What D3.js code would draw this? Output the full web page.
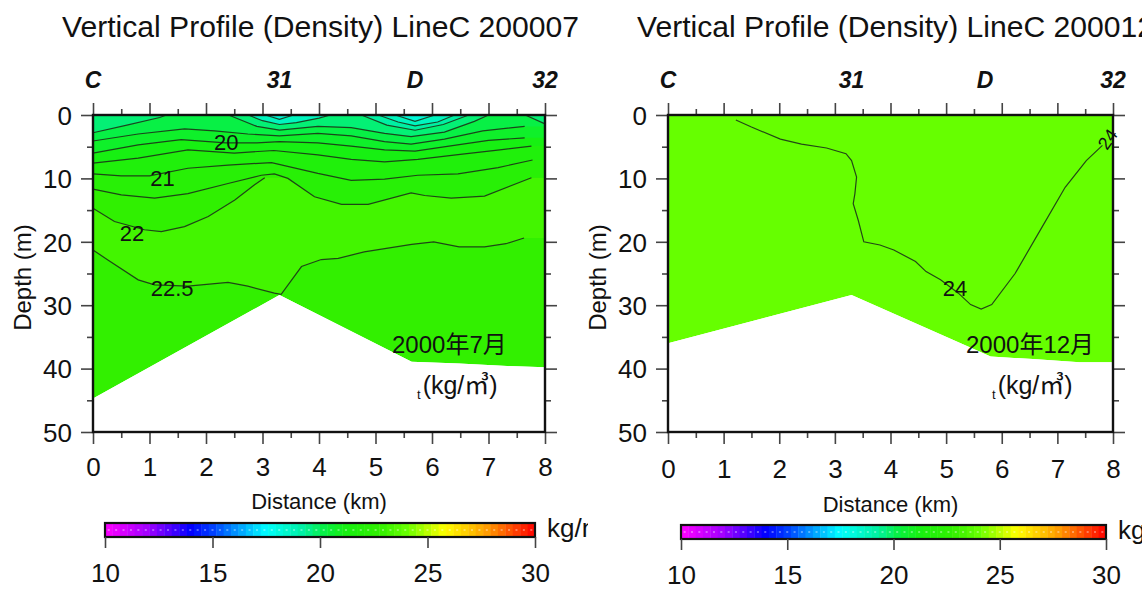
<!DOCTYPE html>
<html>
<head>
<meta charset="utf-8">
<script src="https://cdn.jsdelivr.net/npm/d3@7"></script>
<style>
  body { margin: 0; background: #fff; }
  svg text { font-family: "Liberation Sans", Arial, sans-serif; fill: #111; }
  .narrow { font-family: "Liberation Sans Narrow", "Liberation Sans", "Noto Sans CJK JP", sans-serif; }
  .cjk { font-family: "Liberation Sans Narrow", "Liberation Sans", "Noto Sans CJK JP", sans-serif; }
</style>
</head>
<body>
<svg id="chart" width="1142" height="591"></svg>
<script>
const W = 1142, H = 591;

// axes
const distanceTicks = [0, 1, 2, 3, 4, 5, 6, 7, 8];
const distanceMinor = [0.5, 1.5, 2.5, 3.5, 4.5, 5.5, 6.5, 7.5];
const depthTicks = [0, 10, 20, 30, 40, 50];
const depthMinor = [5, 15, 25, 35, 45];
const stationNames = ["C", "31", "D", "32"];
const stationKm = [0, 3.3, 5.7, 8];

// colour bar
const colorTicks = [10, 15, 20, 25, 30];
const colorStops = [10, 12, 14, 15, 17.5, 19.25, 20.25, 21.25, 22.8, 24, 25.8, 27.7, 30];
const colorHex = ["#ff00ff", "#a000ff", "#0000ff", "#0040ff", "#00ffff", "#00f0a0", "#08f040", "#18f010", "#32f000", "#66ff00", "#ffff00", "#ffa000", "#ff0000"];

// sea bottom (km, depth m)
const julBottom = [[0, 44.7], [3.3, 28.4], [5.64, 38.9], [6.48, 39.2], [7.33, 39.6], [8, 39.8]];
const decBottom = [[0, 36.0], [3.3, 28.4], [5.8, 38.1], [6.56, 38.5], [7.4, 39.0], [8, 39.0]];

// July 2000 density contours (km, depth m)
const jul175a = [[3.05, 0], [3.3, 0.7], [3.55, 0]];
const jul175b = [[5.35, 0], [5.7, 1.0], [6.05, 0]];
const jul18a = [[2.75, 0], [3.0, 0.9], [3.3, 1.5], [3.6, 1.2], [4.0, 0.5], [4.2, 0]];
const jul18b = [[5.05, 0], [5.4, 1.1], [5.7, 1.7], [6.1, 1.1], [6.4, 0]];
const jul185 = [[4.75, 0], [5.2, 1.6], [5.7, 2.4], [6.2, 1.5], [6.65, 0]];
const jul19a = [[0, 2.8], [0.6, 1.6], [1.18, 0.4], [1.3, 0]];
const jul19b = [[2.4, 0], [2.9, 1.8], [3.3, 2.4], [3.98, 1.8], [4.57, 2.0], [5.16, 2.9], [5.63, 3.4], [6.22, 2.7], [6.75, 1.0], [7.0, 0]];
const jul19c = [[7.65, 0], [8, 1.4]];
const jul195 = [[0, 4.1], [0.8, 3.0], [1.62, 2.2], [2.15, 2.5], [2.74, 3.0], [3.3, 3.3], [3.98, 2.9], [4.57, 3.3], [5.16, 4.2], [5.63, 4.6], [6.22, 3.8], [6.9, 2.5], [7.64, 1.8]];
const jul20 = [[0, 6.0], [0.8, 4.7], [1.56, 3.9], [2.35, 4.4], [2.9, 4.4], [3.3, 4.2], [3.98, 4.4], [4.57, 4.9], [5.16, 5.5], [5.7, 5.7], [6.3, 4.9], [7.0, 4.0], [7.64, 3.6]];
const jul205 = [[0, 7.6], [0.8, 6.8], [1.68, 5.5], [2.5, 6.0], [3.2, 5.6], [3.98, 6.3], [4.57, 7.0], [5.16, 7.4], [5.75, 7.0], [6.5, 6.2], [7.2, 5.5], [7.76, 4.9]];
const jul21 = [[0, 9.3], [0.5, 9.6], [1.0, 9.6], [1.68, 8.4], [2.39, 7.9], [3.16, 7.5], [3.98, 9.2], [4.57, 10.3], [5.16, 10.1], [5.75, 9.5], [6.46, 9.3], [7.17, 8.3], [7.78, 7.1]];
const jul215 = [[0, 11.7], [0.5, 12.6], [1.09, 13.1], [1.68, 12.4], [2.39, 10.8], [2.98, 9.5], [3.21, 9.3], [3.45, 10.0], [3.92, 12.9], [4.4, 14.1], [4.87, 14.1], [5.63, 12.3], [5.87, 12.7], [6.34, 13.1], [6.93, 12.8], [7.76, 9.9]];
const jul22 = [[0, 14.7], [0.38, 16.8], [0.91, 18.1], [1.21, 18.4], [1.62, 17.6], [2.04, 16.0], [2.51, 13.4], [2.86, 11.0], [3.04, 9.9]];
const jul225 = [[0, 21.3], [0.27, 22.9], [0.8, 26.0], [1.09, 26.8], [1.68, 27.0], [2.39, 26.4], [2.74, 27.0], [3.21, 28.1], [3.33, 28.3], [3.69, 23.9], [4.04, 22.8], [4.34, 22.6], [4.8, 21.6], [5.64, 20.4], [6.03, 20.0], [6.48, 20.8], [6.93, 20.8], [7.31, 20.3], [7.63, 19.4]];

const julLevels = [22.5, 22, 21.5, 21, 20.5, 20, 19.5, 19, 19, 19, 18.5, 18, 18, 17.5, 17.5];
const julLines = [jul225, jul22, jul215, jul21, jul205, jul20, jul195, jul19a, jul19b, jul19c, jul185, jul18a, jul18b, jul175a, jul175b];

const julLabelText = ["20", "21", "22", "22.5"];
const julLabelPos = [[2.36, 4.2], [1.23, 10.0], [0.69, 18.6], [1.4, 27.3]];

// December 2000 density contour
const dec24 = [[1.22, 0.8], [1.5, 1.9], [2.02, 3.8], [2.4, 4.6], [2.85, 5.2], [3.2, 6.1], [3.3, 7.2], [3.39, 9.8], [3.36, 12.4], [3.33, 14.0], [3.42, 16.6], [3.52, 20.0], [3.81, 20.5], [4.06, 21.3], [4.45, 23.1], [4.64, 24.7], [4.9, 26.0], [5.22, 28.1], [5.44, 29.9], [5.63, 30.6], [5.82, 29.9], [6.24, 25.0], [6.69, 18.2], [7.14, 11.4], [7.52, 7.2], [7.81, 4.8]];
const decLevels = [24];
const decLines = [dec24];
const decLabelText = ["24", "24"];
const decLabelPos = [[5.16, 27.3], [7.9, 3.8]];
const decLabelAngle = [0, -55];

const panels = [
  { id: "jul", title: "Vertical Profile (Density) LineC 200007", titleX: 62, xRange: [93, 545], clip: [0, 588],
    bottom: julBottom, lines: julLines, levels: julLevels, labelText: julLabelText, labelPos: julLabelPos, labelAngle: [0, 0, 0, 0],
    baseLevel: 22.8, bands: true, month: "2000年7月", monthX: 392, unitX: 417, cbar: [105, 535], cbarY: 523, shift: 0 },
  { id: "dec", title: "Vertical Profile (Density) LineC 200012", titleX: 637, xRange: [668, 1113], clip: [588, 1142],
    bottom: decBottom, lines: decLines, levels: decLevels, labelText: decLabelText, labelPos: decLabelPos, labelAngle: decLabelAngle,
    baseLevel: 24, bands: false, month: "2000年12月", monthX: 966, unitX: 992, cbar: [681, 1106], cbarY: 525, shift: 3 },
];

const svg = d3.select("#chart");
const defs = svg.append("defs");
const color = d3.scaleLinear().domain(colorStops).range(colorHex).interpolate(d3.interpolateRgb).clamp(true);

function drawPanel(p) {
  defs.append("clipPath").attr("id", `${p.id}-clip`)
    .append("rect").attr("x", p.clip[0]).attr("y", 0).attr("width", p.clip[1] - p.clip[0]).attr("height", H);

  const g = svg.append("g").attr("clip-path", `url(#${p.id}-clip)`);
  const x = d3.scaleLinear().domain([0, 8]).range(p.xRange);
  const y = d3.scaleLinear().domain([0, 50]).range([115, 432]);
  const line = d3.line().x((d) => x(d[0])).y((d) => y(d[1]));

  // water area
  const water = [[0, 0], [8, 0], ...p.bottom.slice().reverse()];
  defs.append("clipPath").attr("id", `${p.id}-water`).append("path").attr("d", line(water) + "Z");

  const field = g.append("g").attr("clip-path", `url(#${p.id}-water)`);
  field.append("path").attr("d", line(water) + "Z").attr("fill", color(p.baseLevel));

  // bands above each contour, painted deep to shallow
  if (p.bands) {
    p.lines.forEach((pts, i) => {
      const first = pts[0], last = pts[pts.length - 1];
      const poly = [];
      if (first[1] > 0) poly.push([first[0], 0]);
      poly.push(...pts);
      if (last[1] > 0) {
        if (last[0] < 8) poly.push([8, last[1]]);
        poly.push([8, 0]);
      }
      field.append("path").attr("d", line(poly) + "Z").attr("fill", color(p.levels[i] + 0.7));
    });
  }

  // contour lines
  g.append("g").selectAll("path").data(p.lines).join("path")
    .attr("d", line).attr("fill", "none")
    .attr("stroke", "#1c3318").attr("stroke-width", 1.2).attr("stroke-opacity", 0.9);

  g.append("g").selectAll("text").data(p.labelText).join("text")
    .attr("class", "narrow")
    .attr("transform", (d, i) => `translate(${x(p.labelPos[i][0])},${y(p.labelPos[i][1])}) rotate(${p.labelAngle[i]})`)
    .attr("text-anchor", "middle").attr("dy", "0.36em")
    .attr("font-size", (d, i) => (p.labelAngle[i] ? 18 : 22))
    .text((d) => d);

  // axes
  const tickStyle = (sel) => {
    sel.select(".domain").remove();
    sel.selectAll(".tick line").attr("stroke", "#444").attr("stroke-width", 1.6);
    sel.selectAll(".tick text").attr("fill", "#111").attr("font-family", "Liberation Sans, Arial, sans-serif");
  };

  g.append("g").attr("transform", "translate(0,432)")
    .call(d3.axisBottom(x).tickValues(distanceTicks).tickSize(12).tickPadding(12).tickFormat(d3.format("d")))
    .call(tickStyle).call((s) => s.selectAll(".tick text").attr("font-size", 26).attr("dy", p.shift ? "0.85em" : "0.76em"));
  g.append("g").attr("transform", "translate(0,432)")
    .call(d3.axisBottom(x).tickValues(distanceMinor).tickSize(6).tickFormat(""))
    .call(tickStyle);
  g.append("g").attr("transform", "translate(0,115)")
    .call(d3.axisTop(x).tickValues(distanceTicks).tickSize(12).tickFormat(""))
    .call(tickStyle);
  g.append("g").attr("transform", "translate(0,115)")
    .call(d3.axisTop(x).tickValues(distanceMinor).tickSize(6).tickFormat(""))
    .call(tickStyle);
  g.append("g").attr("transform", `translate(${p.xRange[0]},0)`)
    .call(d3.axisLeft(y).tickValues(depthTicks).tickSize(12).tickPadding(9))
    .call(tickStyle).call((s) => s.selectAll(".tick text").attr("font-size", 26).attr("dy", "0.36em"));
  g.append("g").attr("transform", `translate(${p.xRange[0]},0)`)
    .call(d3.axisLeft(y).tickValues(depthMinor).tickSize(6).tickFormat(""))
    .call(tickStyle);
  g.append("g").attr("transform", `translate(${p.xRange[1]},0)`)
    .call(d3.axisRight(y).tickValues(depthTicks).tickSize(12).tickFormat(""))
    .call(tickStyle);
  g.append("g").attr("transform", `translate(${p.xRange[1]},0)`)
    .call(d3.axisRight(y).tickValues(depthMinor).tickSize(6).tickFormat(""))
    .call(tickStyle);

  // frame
  g.append("rect")
    .attr("x", x(0)).attr("y", y(0)).attr("width", x(8) - x(0)).attr("height", y(50) - y(0))
    .attr("fill", "none").attr("stroke", "#111").attr("stroke-width", 2.4);

  // station names
  g.append("g").selectAll("text").data(stationNames).join("text")
    .attr("x", (d, i) => x(stationKm[i])).attr("y", 88)
    .attr("text-anchor", "middle").attr("font-size", 23)
    .attr("font-weight", "bold").attr("font-style", "italic")
    .text((d) => d);

  // titles
  g.append("text").attr("x", p.titleX).attr("y", 37).attr("font-size", 29)
    .attr("textLength", 517).attr("lengthAdjust", "spacingAndGlyphs").text(p.title);

  g.append("text").attr("transform", `translate(${p.xRange[0] - 62},${y(25) + 4}) rotate(-90)`)
    .attr("text-anchor", "middle").attr("font-size", 24).text("Depth (m)");

  g.append("text").attr("x", x(4)).attr("y", 509 + p.shift)
    .attr("text-anchor", "middle").attr("font-size", 22).text("Distance (km)");

  // month + unit notes
  g.append("text").attr("class", "cjk").attr("x", p.monthX).attr("y", 353).attr("font-size", 24).text(p.month);
  const unit = g.append("text").attr("class", "cjk").attr("x", p.unitX).attr("y", 394).attr("font-size", 25);
  unit.append("tspan").attr("font-size", 13).attr("dy", 5).text("t");
  unit.append("tspan").attr("dy", -5).attr("dx", 2).text("(kg/㎥)");

  // colour bar
  const cx = d3.scaleLinear().domain([10, 30]).range(p.cbar);
  const nCells = 58;
  const cellVals = d3.range(nCells).map((i) => 10 + (i + 0.5) * 20 / nCells);
  const cw = (p.cbar[1] - p.cbar[0]) / nCells;
  const cb = g.append("g");
  cb.selectAll("rect.cell").data(cellVals).join("rect").attr("class", "cell")
    .attr("x", (d) => cx(d) - cw / 2).attr("y", p.cbarY).attr("width", cw + 0.4).attr("height", 14)
    .attr("fill", (d) => color(d));
  cb.selectAll("rect.dot").data(cellVals).join("rect").attr("class", "dot")
    .attr("x", (d) => cx(d) - 1).attr("y", p.cbarY + 6).attr("width", 2).attr("height", 2)
    .attr("fill", "#fff").attr("fill-opacity", 0.35);
  cb.append("rect").attr("x", p.cbar[0]).attr("y", p.cbarY).attr("width", p.cbar[1] - p.cbar[0]).attr("height", 14)
    .attr("fill", "none").attr("stroke", "#111").attr("stroke-width", 2.2);
  cb.append("g").attr("transform", `translate(0,${p.cbarY + 14})`)
    .call(d3.axisBottom(cx).tickValues(colorTicks).tickSize(11).tickPadding(14).tickFormat(d3.format("d")))
    .call(tickStyle).call((s) => s.selectAll(".tick text").attr("font-size", 26).attr("dy", "0.76em"));
  // unit label is cut by the panel edge, as in the source images
  cb.append("text").attr("x", p.cbar[1] + 12).attr("y", p.cbarY + 14).attr("font-size", 26).text("kg/m³");
}

panels.forEach(drawPanel);
</script>
</body>
</html>
